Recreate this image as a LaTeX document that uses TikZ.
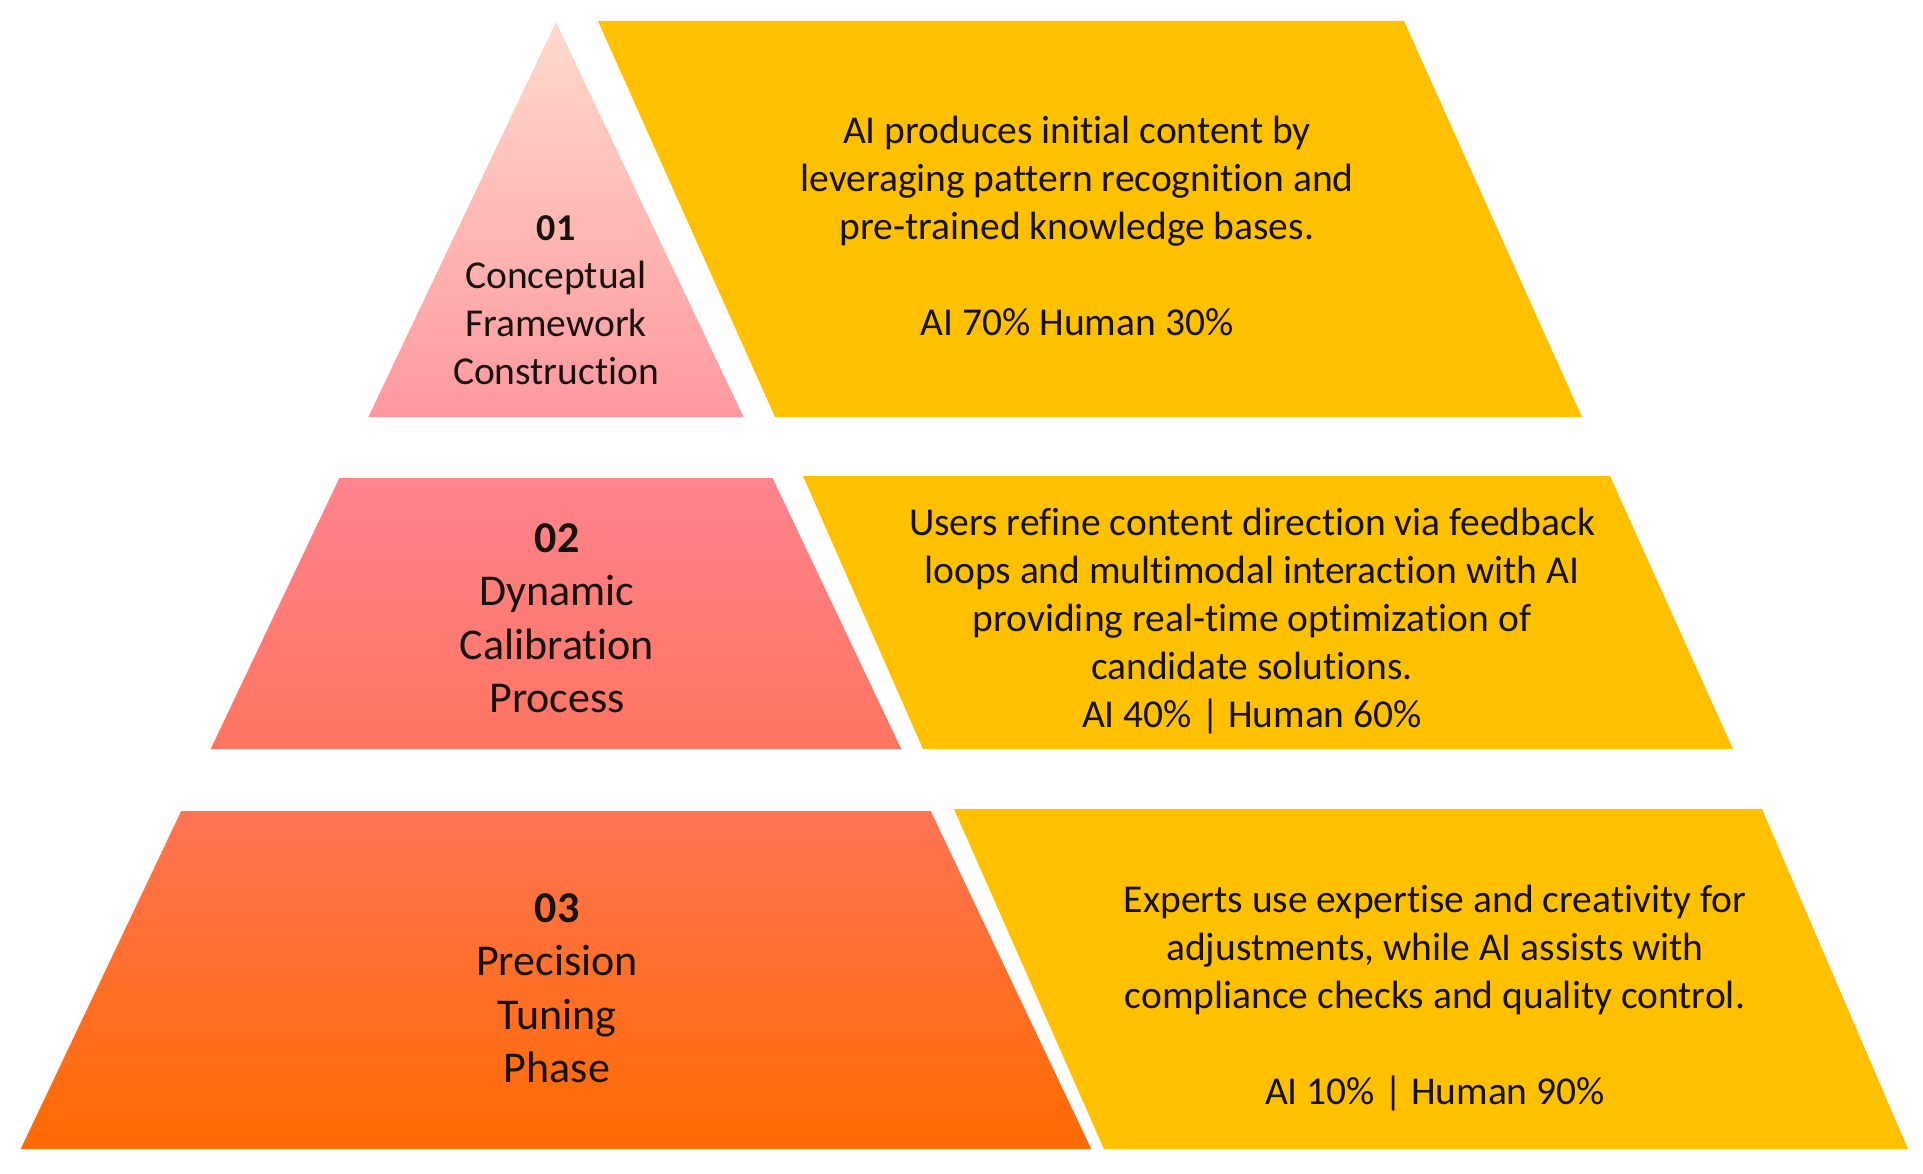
\documentclass[tikz,border=0pt]{standalone}
\usepackage{fontspec}
\setmainfont{Carlito}[Ligatures=NoCommon]
\definecolor{gold}{RGB}{255,192,0}
\definecolor{tAtop}{RGB}{255,218,204}
\definecolor{tAbot}{RGB}{255,152,158}
\definecolor{tBtop}{RGB}{255,132,142}
\definecolor{tBbot}{RGB}{255,116,96}
\definecolor{tCtop}{RGB}{255,116,84}
\definecolor{tCbot}{RGB}{255,106,0}
\definecolor{ink}{RGB}{22,18,14}
\tikzset{
  bodytext/.style={text=ink, align=center, inner sep=0pt, font=\fontsize{39.5}{48}\selectfont},
  tiertext/.style={text=ink, align=center, inner sep=0pt, font=\fontsize{44}{53.5}\selectfont},
  toptext/.style={text=ink, align=center, inner sep=0pt, font=\fontsize{39.5}{48}\selectfont},
}
\begin{document}
\begin{tikzpicture}[x=1pt,y=-1pt]
\useasboundingbox (0,0) rectangle (1923,1174);
\fill[white] (0,0) rectangle (1923,1174);
% pyramid tiers
\shade[top color=tAtop, bottom color=tAbot] (556,22) -- (743.6,417) -- (368.4,417) -- cycle;
\shade[top color=tBtop, bottom color=tBbot] (339.4,478) -- (772.6,478) -- (901.3,749) -- (210.7,749) -- cycle;
\shade[top color=tCtop, bottom color=tCbot] (181.2,811) -- (930.8,811) -- (1091.3,1149) -- (20.7,1149) -- cycle;
% parallelograms
\fill[gold] (598,21) -- (1404,21) -- (1582,417) -- (775,417) -- cycle;
\fill[gold] (803,476) -- (1610,476) -- (1733,749) -- (923,749) -- cycle;
\fill[gold] (954,809) -- (1762,809) -- (1908,1149) -- (1104,1149) -- cycle;
% tier labels
\node[toptext] (lab1) at (556,300) {{\bfseries\fontsize{38}{48}\selectfont 01}\\Conceptual\\Framework\\Construction};
\node[tiertext] (lab2) at (557,618) {{\bfseries 02}\\Dynamic\\Calibration\\Process};
\node[tiertext] (lab3) at (557,988) {{\bfseries 03}\\Precision\\Tuning\\Phase};
% descriptions
\node[bodytext] (desc1) at (1077,226) {AI produces initial content by\\leveraging pattern recognition and\\pre-trained knowledge bases.\\[48pt]AI 70\% Human 30\%};
\node[bodytext] (desc2) at (1252,621) {Users refine content direction via feedback\\loops and multimodal interaction with AI\\providing real-time optimization of\\candidate solutions.\\AI 40\% | Human 60\%};
\node[bodytext] (desc3) at (1435,998) {Experts use expertise and creativity for\\adjustments, while AI assists with\\compliance checks and quality control.\\[48pt]AI 10\% | Human 90\%};
\end{tikzpicture}
\end{document}
